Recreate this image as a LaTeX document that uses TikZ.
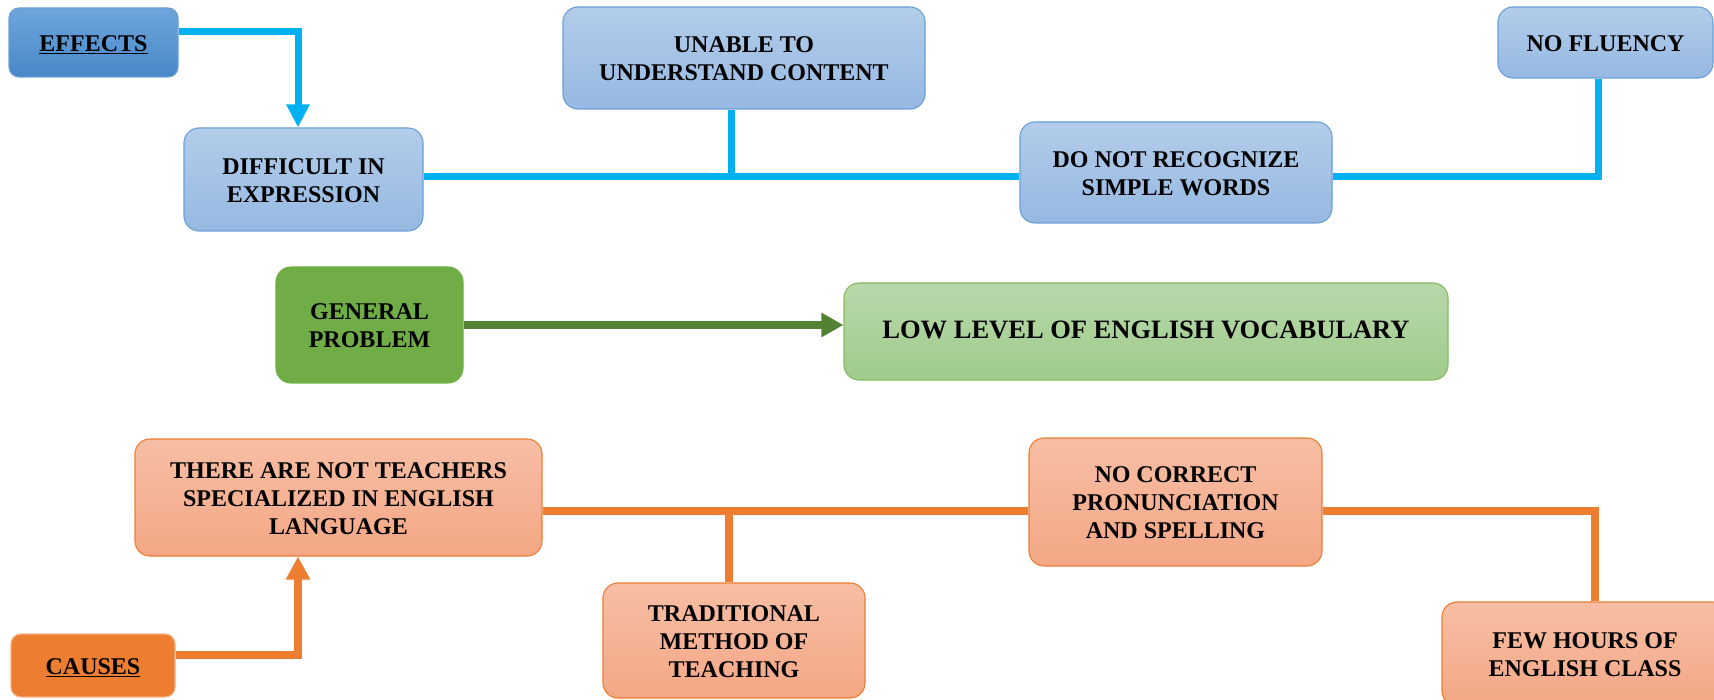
\documentclass[tikz,border=0pt]{standalone}
\usepackage{fontspec}
\setmainfont{Liberation Serif}
\usetikzlibrary{arrows.meta}
\definecolor{btop}{HTML}{B3CDEA}
\definecolor{bbot}{HTML}{96B8E2}
\definecolor{bborder}{HTML}{6A9FD6}
\definecolor{etop}{HTML}{6EA5DC}
\definecolor{ebot}{HTML}{4788C8}
\definecolor{bline}{HTML}{00B0F0}
\definecolor{gdark}{HTML}{70AD47}
\definecolor{gtop}{HTML}{B8D8AA}
\definecolor{gbot}{HTML}{A0CB8C}
\definecolor{gborder}{HTML}{84BA62}
\definecolor{garrow}{HTML}{548235}
\definecolor{otop}{HTML}{F7BEA5}
\definecolor{obot}{HTML}{F4A785}
\definecolor{oborder}{HTML}{ED7D31}
\definecolor{odark}{HTML}{ED7D31}
\newcommand\boxtext[2][-3pt]{\raisebox{#1}[\height][\depth]{\begin{tabular}{@{}c@{}}#2\end{tabular}}}
\tikzset{
  box/.style={rounded corners=15pt, align=center, inner sep=0pt, line width=1.1pt,
    font=\fontsize{24}{28}\selectfont\bfseries},
  bluebox/.style={box, draw=bborder, top color=btop, bottom color=bbot},
  headblue/.style={box, rounded corners=10pt, draw=bborder, top color=etop, bottom color=ebot},
  orangebox/.style={box, draw=oborder, top color=otop, bottom color=obot},
  headorange/.style={box, rounded corners=10pt, draw=odark!60, fill=odark},
  greenhead/.style={box, draw=gdark, fill=gdark},
  greenbox/.style={box, draw=gborder, top color=gtop, bottom color=gbot,
    font=\fontsize{26.5}{30}\selectfont\bfseries},
  blueline/.style={draw=bline, line width=7pt, line join=miter},
  orangeline/.style={draw=odark, line width=7.5pt, line join=miter},
  greenline/.style={draw=garrow, line width=8pt},
}
\begin{document}
\begin{tikzpicture}[x=1pt,y=-1pt]
\useasboundingbox (0,0) rectangle (1714,700);
% effects side
\node[headblue, minimum width=169pt, minimum height=69pt] (effects) at (93.5,42.5) {\boxtext{\underline{EFFECTS}}};
\node[bluebox, minimum width=239pt, minimum height=103pt] (difficult) at (303.5,179.5) {\boxtext{DIFFICULT IN\\EXPRESSION}};
\node[bluebox, minimum width=362pt, minimum height=102pt] (unable) at (744,58) {\boxtext{UNABLE TO\\UNDERSTAND CONTENT}};
\node[bluebox, minimum width=312pt, minimum height=101pt] (donot) at (1176,172.5) {\boxtext{DO NOT RECOGNIZE\\SIMPLE WORDS}};
\node[bluebox, minimum width=215pt, minimum height=71pt] (nofluency) at (1605.5,42.5) {\boxtext{NO FLUENCY}};
% general problem
\node[greenhead, minimum width=187pt, minimum height=116pt] (general) at (369.5,325) {\boxtext{GENERAL\\PROBLEM}};
\node[greenbox, minimum width=604pt, minimum height=97pt] (lowlevel) at (1146,331.5) {\boxtext[-1pt]{LOW LEVEL OF ENGLISH VOCABULARY}};
% causes side
\node[orangebox, minimum width=407pt, minimum height=117pt] (there) at (338.5,497.5) {\boxtext{THERE ARE NOT TEACHERS\\SPECIALIZED IN ENGLISH\\LANGUAGE}};
\node[orangebox, minimum width=262pt, minimum height=115pt] (traditional) at (734,640.5) {\boxtext{TRADITIONAL\\METHOD OF\\TEACHING}};
\node[orangebox, minimum width=293pt, minimum height=128pt] (nocorrect) at (1175.5,502) {\boxtext{NO CORRECT\\PRONUNCIATION\\AND SPELLING}};
\node[orangebox, minimum width=286pt, minimum height=104pt] (few) at (1585,654) {\boxtext{FEW HOURS OF\\ENGLISH CLASS}};
\node[headorange, minimum width=164pt, minimum height=63pt] (causes) at (93,665.5) {\boxtext{\underline{CAUSES}}};
% helper coordinates
\coordinate (bl) at (0,177);
\coordinate (ol) at (0,511);
\coordinate (ub) at ([xshift=-13pt]unable.south);
\coordinate (tb) at ([xshift=-5pt]traditional.north);
% blue connectors
\draw[blueline, -{Triangle[width=22pt,length=23pt]}] ([yshift=10.5pt]effects.east) -| ([xshift=-5.5pt]difficult.north);
\draw[blueline] (difficult.east |- bl) -- (donot.west |- bl);
\draw[blueline] (ub) -- (ub |- bl);
\draw[blueline] (donot.east |- bl) -| ([xshift=-7.5pt]nofluency.south);
% green arrow
\draw[greenline, -{Triangle[width=23pt,length=22pt]}] (general.east) -- (general.east -| lowlevel.west);
% orange connectors
\draw[orangeline, -{Triangle[width=23pt,length=23pt]}] ([yshift=10.5pt]causes.east) -| ([xshift=-40.5pt]there.south);
\draw[orangeline] (there.east |- ol) -- (nocorrect.west |- ol);
\draw[orangeline] (tb) -- (tb |- ol);
\draw[orangeline] (nocorrect.east |- ol) -| ([xshift=10pt]few.north);
\end{tikzpicture}
\end{document}
